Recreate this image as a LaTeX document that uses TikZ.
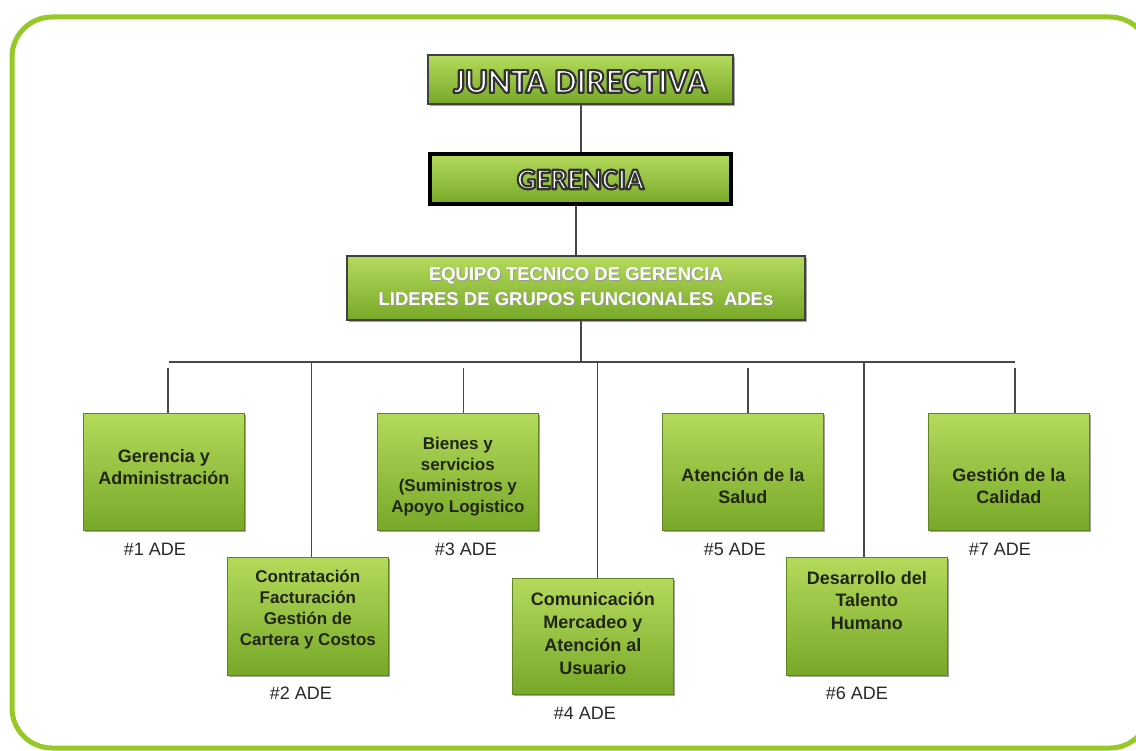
\documentclass[tikz,border=0pt]{standalone}
\usepackage{fontspec}
\setmainfont{Liberation Sans}
\newfontfamily\titlefont{Carlito}
\usetikzlibrary{shadows}

\definecolor{frame}{RGB}{150,201,40}
\definecolor{boxtop}{RGB}{180,218,92}
\definecolor{boxbot}{RGB}{120,168,40}
\definecolor{boxedge}{RGB}{96,132,36}
\definecolor{wire}{RGB}{72,72,72}
\definecolor{ink}{RGB}{32,38,20}
\definecolor{labelink}{RGB}{40,40,40}

% white lettering with a dark outline: fill and stroke the glyphs in one pass
\newcommand\outlined[1]{%
  \special{pdf:literal direct 0.2 0.2 0.2 RG 2.2 w 1 j 2 Tr}#1%
  \special{pdf:literal direct 0 Tr 0 j}}
% white lettering with a faint shadow
\newcommand\shade[1]{\leavevmode
  \rlap{\kern1pt\raisebox{-1pt}{\textcolor{black!40}{#1}}}\textcolor{white}{#1}}

\tikzset{
  greenbox/.style={rectangle, inner sep=0pt, top color=boxtop, bottom color=boxbot,
    draw=boxedge, line width=0.7pt,
    drop shadow={shadow xshift=1.5pt, shadow yshift=-2pt, opacity=0.35, fill=black}},
  headbox/.style={greenbox, draw=black!75, line width=1.4pt},
  unitbox/.style={greenbox, minimum width=161pt, minimum height=117pt},
  unittext/.style={align=center, text=ink, inner sep=0pt,
    font=\bfseries\fontsize{18}{22.5}\selectfont},
  longtext/.style={unittext, font=\bfseries\fontsize{17}{21}\selectfont},
  adelabel/.style={text=labelink, inner sep=0pt, font=\fontsize{18}{20}\selectfont},
  wire/.style={draw=wire, line width=1.6pt},
}

\begin{document}
\begin{tikzpicture}[x=1pt, y=-1pt]
\useasboundingbox (0,0) rectangle (1136,751);

% outer frame
\draw[frame, line width=5pt, rounded corners=40pt] (12,17) rectangle (1150,748);

% top of the hierarchy
\node[headbox, minimum width=305pt, minimum height=49pt] (junta) at (580.5,79.5) {};
\node[inner sep=0pt, text=white, font=\titlefont\bfseries\fontsize{35}{38}\selectfont]
  (juntaT) at (580.5,81.5) {\outlined{JUNTA DIRECTIVA}};

\node[headbox, draw=black, line width=4pt, minimum width=301pt, minimum height=50pt]
  (ger) at (580.5,179.5) {};
\node[inner sep=0pt, text=white, font=\titlefont\bfseries\fontsize{30}{32}\selectfont]
  (gerT) at (580.5,179.5) {\outlined{GERENCIA}};

\node[headbox, minimum width=458pt, minimum height=64pt] (eq) at (576,288) {};
\node[align=center, inner sep=0pt, font=\bfseries\fontsize{18.5}{25}\selectfont]
  (eqT) at (576,287) {\shade{EQUIPO TECNICO DE GERENCIA}\\\shade{LIDERES DE GRUPOS FUNCIONALES\ \ ADEs}};

\coordinate (busmid) at (581,362);
\coordinate (gap) at (0,368);

\draw[wire] (junta.south -| busmid) -- (ger.north -| busmid);
\draw[wire] (ger.south -| eq.north) -- (eq.north);
\draw[wire] (eq.south -| busmid) -- (busmid);

% functional groups
\node[unitbox, anchor=north west] (a1) at (83,413) {};
\node[unitbox, anchor=north west] (a3) at (377,413) {};
\node[unitbox, anchor=north west] (a5) at (662,413) {};
\node[unitbox, anchor=north west] (a7) at (928,413) {};
\node[unitbox, anchor=north west, minimum height=118pt] (a2) at (227,557) {};
\node[unitbox, anchor=north west, minimum height=116pt] (a4) at (512,578) {};
\node[unitbox, anchor=north west, minimum height=118pt] (a6) at (786,557) {};

\node[unittext] (t1) at ([yshift=5pt]a1.center) {Gerencia y\\Administración};
\node[longtext] (t3) at ([yshift=-5pt]a3.center) {Bienes y\\servicios\\(Suministros y\\Apoyo Logistico};
\node[unittext] (t5) at ([yshift=-14pt]a5.center) {Atención de la\\Salud};
\node[unittext] (t7) at ([yshift=-14pt]a7.center) {Gestión de la\\Calidad};
\node[longtext] (t2) at ([yshift=7pt]a2.center) {Contratación\\Facturación\\Gestión de\\Cartera y Costos};
\node[unittext, font=\bfseries\fontsize{18}{23}\selectfont] (t4) at ([yshift=3pt]a4.center) {Comunicación\\Mercadeo y\\Atención al\\Usuario};
\node[unittext] (t6) at ([yshift=16pt]a6.center) {Desarrollo del\\Talento\\Humano};

\node[adelabel] (l1) at ([xshift=-9pt, yshift=-19pt]a1.south) {\#1 ADE};
\node[adelabel] (l2) at ([xshift=-7pt, yshift=-18pt]a2.south) {\#2 ADE};
\node[adelabel] (l3) at ([xshift=8pt, yshift=-19pt]a3.south) {\#3 ADE};
\node[adelabel] (l4) at ([xshift=-8pt, yshift=-19pt]a4.south) {\#4 ADE};
\node[adelabel] (l5) at ([xshift=-8pt, yshift=-19pt]a5.south) {\#5 ADE};
\node[adelabel] (l6) at ([xshift=-10pt, yshift=-18pt]a6.south) {\#6 ADE};
\node[adelabel] (l7) at ([xshift=-9pt, yshift=-19pt]a7.south) {\#7 ADE};

% distribution bus and drops
\draw[wire] ([xshift=5pt]a1.north |- busmid) -- ([xshift=6pt]a7.north |- busmid);
\foreach \n/\dx in {a1/4, a3/5.5, a5/5, a7/6}
  \draw[wire] ([xshift=\dx pt]\n.north) -- ([xshift=\dx pt]\n.north |- gap);
\foreach \n/\dx in {a2/3.5, a4/4.5, a6/-3}
  \draw[wire] ([xshift=\dx pt]\n.north) -- ([xshift=\dx pt]\n.north |- busmid);
\end{tikzpicture}
\end{document}
